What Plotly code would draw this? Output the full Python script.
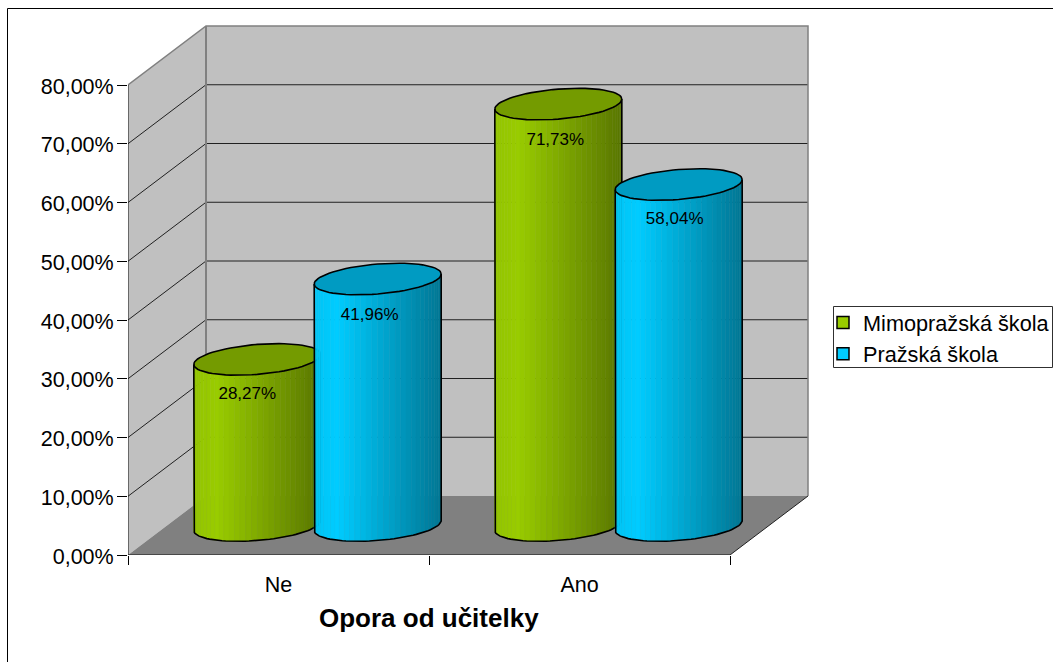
import math
import plotly.graph_objects as go

# ---- data -------------------------------------------------------------
categories = ["Ne", "Ano"]
series_names = ["Mimopražská škola", "Pražská škola"]
mimoprazska = [28.27, 71.73]
prazska = [41.96, 58.04]
y_ticks = [0, 10, 20, 30, 40, 50, 60, 70, 80]
axis_title = "Opora od učitelky"

# ---- scene geometry ----------------------------------------------------
W, H = 1053, 662
PX0, PY0 = 128, 555              # pixel of data (0, 0)
UX, UY = 301, 5.875              # pixels per category / per percent
RIGHT, TOP = 812, 18             # plot-area pixel bounds
DX, DY = 78 / UX, 59 / UY        # depth of the box in data units
RAD = 63.5 / UX                  # cylinder radius along x
TILT, FLAT = 5 / UY, 15 / UY     # base-ellipse shape in y units
OFFSET = 0.2                     # bar offset from the category centre
N = 34
YMAX = 80
FONT = "Liberation Sans, Arial, sans-serif"
colors = [(0x99, 0xCC, 0x00), (0x00, 0xCC, 0xFF)]
# per-label nudges in pixels, [category][series]
label_dx = [[-10, -8], [-3, -4]]
label_dy = [[35, 37], [37, 35]]


def paper_x(px):
    return (px - PX0) / (RIGHT - PX0)


def paper_y(py):
    return (PY0 - py) / (PY0 - TOP)


def shade(c, f):
    return "rgb(%d,%d,%d)" % tuple(round(v * f) for v in c)


def factor(u):
    return 0.96 + 0.04 * u / 0.18 if u < 0.18 else 1 - 0.42 * (u - 0.18) / 0.82


def ellipse(cx, cy, t):
    return cx + RAD * math.cos(t), cy + TILT * math.cos(t) - FLAT * math.sin(t)


fig = go.Figure()


def poly(xs, ys, fill, line=None, width=0):
    fig.add_trace(go.Scatter(
        x=xs, y=ys, mode="lines", fill="toself", fillcolor=fill,
        line=dict(color=line or fill, width=width),
        hoverinfo="skip", showlegend=False))


def lines(xs, ys, color, width):
    fig.add_trace(go.Scatter(
        x=xs, y=ys, mode="lines", line=dict(color=color, width=width),
        hoverinfo="skip", showlegend=False))


XMAX = len(categories)
WALL, FLOOR = "#C0C0C0", "#808080"

# walls
poly([DX, XMAX + DX, XMAX + DX, DX, DX], [DY, DY, YMAX + DY, YMAX + DY, DY], WALL)
poly([0, DX, DX, 0, 0], [0, DY, YMAX + DY, YMAX, 0], WALL)

# gridlines on side wall and back wall
gx, gy = [], []
for v in y_ticks[1:-1]:
    gx += [0, DX, XMAX + DX, None]
    gy += [v, v + DY, v + DY, None]
lines(gx, gy, "#202020", 1)
# wall outlines
lines([0, DX, XMAX + DX, XMAX + DX], [YMAX, YMAX + DY, YMAX + DY, DY], FLOOR, 1.5)
lines([DX, DX], [DY, YMAX + DY], FLOOR, 2)

# floor
poly([0, XMAX, XMAX + DX, DX, 0], [0, 0, DY, DY, 0], FLOOR)
lines([XMAX, XMAX + DX], [0, DY], "#202020", 1)
lines([0, 0, XMAX], [YMAX, 0, 0], "#101010", 1)

# cylinders
labels_x, labels_y, labels_t = [], [], []
for ci, _ in enumerate(categories):
    for si, values in enumerate([mimoprazska, prazska]):
        v = values[ci]
        cx = ci + 0.5 + DX / 2 + (si - 0.5) * 2 * OFFSET
        base = DY / 2
        top = base + v
        col = colors[si]
        for i in range(N):
            t0 = math.pi * (1 - i / N)
            t1 = math.pi * (1 - (i + 1) / N)
            um = (1 + math.cos((t0 + t1) / 2)) / 2
            a0, a1 = ellipse(cx, base, t0), ellipse(cx, base, t1)
            b0, b1 = ellipse(cx, top, t0), ellipse(cx, top, t1)
            poly([a0[0], a1[0], b1[0], b0[0], a0[0]],
                 [a0[1], a1[1], b1[1], b0[1], a0[1]],
                 shade(col, factor(um)), None, 0.5)
        # top cap
        ang = [2 * math.pi * k / 72 for k in range(73)]
        ex, ey = zip(*[ellipse(cx, top, a) for a in ang])
        poly(list(ex), list(ey), shade(col, 0.76), "#000000", 1.6)
        # silhouette
        arc = [ellipse(cx, base, math.pi * (1 - k / 48)) for k in range(49)]
        sx = [cx - RAD] + [p[0] for p in arc] + [cx + RAD]
        sy = [ellipse(cx, top, math.pi)[1]] + [p[1] for p in arc] + [ellipse(cx, top, 0)[1]]
        lines(sx, sy, "#000000", 1.6)
        labels_x.append(cx + label_dx[ci][si] / UX)
        labels_y.append(top - label_dy[ci][si] / UY)
        labels_t.append(f"{v:.2f}".replace(".", ",") + "%")

fig.add_trace(go.Scatter(
    x=labels_x, y=labels_y, text=labels_t, mode="text",
    textposition="middle center",
    textfont=dict(family=FONT, size=17, color="#000000"),
    hoverinfo="skip", showlegend=False))

# legend entries
for si, name in enumerate(series_names):
    fig.add_trace(go.Bar(
        x=[None], y=[None], name=name,
        marker=dict(color=shade(colors[si], 1), line=dict(color="#000000", width=1.5))))

# outer frame and legend frame
shapes = [
    dict(type="rect", xref="paper", yref="paper",
         x0=paper_x(7.5), x1=paper_x(W + 10),
         y0=paper_y(H + 10), y1=paper_y(8.5),
         line=dict(color="#000000", width=1), layer="below"),
    dict(type="rect", xref="paper", yref="paper",
         x0=paper_x(833.5), x1=paper_x(1052.5),
         y0=paper_y(367.5), y1=paper_y(306.5),
         line=dict(color="#303030", width=1), fillcolor="#FFFFFF", layer="below"),
]

fig.update_layout(
    width=W, height=H,
    margin=dict(l=PX0, r=W - RIGHT, t=TOP, b=H - PY0, autoexpand=False),
    paper_bgcolor="#FFFFFF", plot_bgcolor="rgba(0,0,0,0)",
    font=dict(family=FONT, color="#000000", size=21.5),
    shapes=shapes,
    xaxis=dict(range=[0, (RIGHT - PX0) / UX], showgrid=False, zeroline=False,
               tickmode="array", tickvals=[i + 0.5 for i in range(XMAX)],
               ticktext=categories, ticks="", tickfont=dict(size=21.5),
               ticklabelstandoff=14,
               minor=dict(tickmode="array", tickvals=list(range(XMAX + 1)),
                          ticks="outside", ticklen=9, tickcolor="#000000", tickwidth=1, showgrid=False)),
    yaxis=dict(range=[0, (PY0 - TOP) / UY], showgrid=False, zeroline=False,
               tickmode="array", tickvals=y_ticks,
               ticktext=[f"{v:.2f}".replace(".", ",") + "%" for v in y_ticks],
               ticks="outside", ticklen=10, tickcolor="#000000", tickwidth=1,
               ticklabelstandoff=-1, ticklabelshift=1, tickfont=dict(size=21.5)),
    legend=dict(x=paper_x(833), xanchor="left", y=paper_y(302), yanchor="top",
                bgcolor="rgba(0,0,0,0)", borderwidth=0,
                font=dict(size=21.7), indentation=-10),
    annotations=[dict(text="<b>" + axis_title + "</b>", xref="x", x=XMAX / 2,
                      yref="paper", y=paper_y(618), showarrow=False,
                      font=dict(size=26), xanchor="center", yanchor="middle")],
    barmode="group",
)

fig.write_html("out.html", config={"displayModeBar": False},
               post_script="document.body.style.margin='0';document.documentElement.style.overflow='hidden';")
